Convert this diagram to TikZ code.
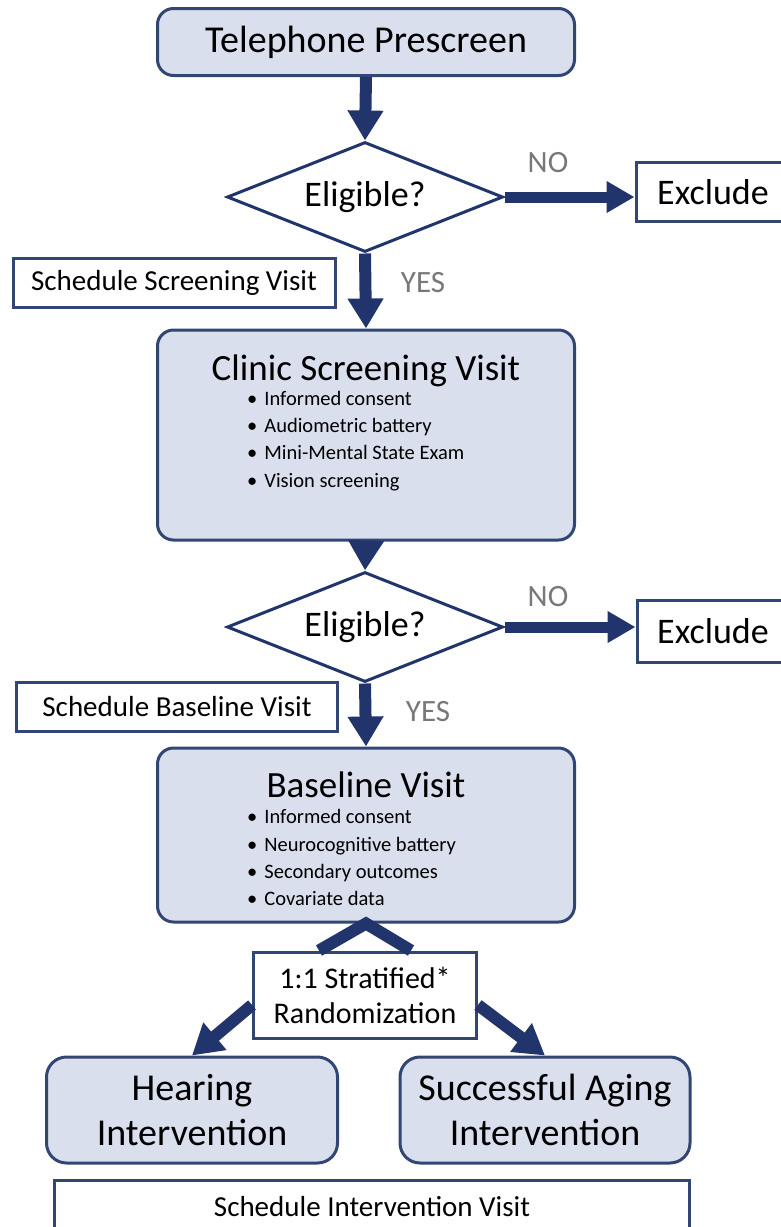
\documentclass[tikz,border=0pt]{standalone}
\usepackage{fontspec}
\setmainfont{Carlito}
\usepackage{tikz}
\usetikzlibrary{positioning}
\usetikzlibrary{shapes.geometric}
\usetikzlibrary{arrows.meta}

\definecolor{navy}{RGB}{33,52,107}
\definecolor{boxline}{RGB}{50,70,115}
\definecolor{boxfill}{RGB}{218,223,238}
\definecolor{answer}{RGB}{120,120,120}

\newcommand{\fsBig}{\fontsize{38}{45}\selectfont}
\newcommand{\fsQuery}{\fontsize{36}{42}\selectfont}
\newcommand{\fsMid}{\fontsize{37}{42}\selectfont}
\newcommand{\fsNote}{\fontsize{29}{35}\selectfont}
\newcommand{\fsItem}{\fontsize{20.5}{24}\selectfont}

\tikzset{
  roundbox/.style={draw=boxline, fill=boxfill, line width=3pt, rounded corners=16pt, inner sep=0pt},
  plainbox/.style={draw=boxline, fill=white, line width=3pt, inner sep=0pt},
  decision/.style={diamond, draw=navy, fill=white, line width=3pt, inner sep=0pt, shape aspect=2.5,
    minimum width=276pt, minimum height=110pt, font=\fsQuery},
  flow/.style={draw=navy, line width=12pt, -{Triangle[length=30pt,width=34pt]}},
  sideflow/.style={draw=navy, line width=11pt, -{Triangle[length=28pt,width=30pt]}},
  answertext/.style={text=answer, font=\fontsize{31}{36}\selectfont},
  itemtext/.style={anchor=base west, inner sep=0pt, font=\fsItem},
  headtext/.style={anchor=base, inner sep=0pt, font=\fsMid},
}

\begin{document}
\begin{tikzpicture}[x=1pt, y=-1pt]
\useasboundingbox (0,0) rectangle (780,1227);

% Nodes
\node at (366,42) (phone) [roundbox, minimum width=417pt, minimum height=67pt, font=\fsBig] {Telephone Prescreen};
\node at (365,197) (elig1) [decision] {Eligible?};
\node at (713,192) (excl1) [plainbox, minimum width=154pt, minimum height=59pt, font=\fsQuery] {Exclude};
\node at (548,163) (no1) [answertext] {NO};
\node at (174,283) (sched1) [plainbox, minimum width=322pt, minimum height=49pt, font=\fsNote] {Schedule Screening Visit};
\node at (423,283) (yes1) [answertext] {YES};

\node at (366,435) (clinic) [roundbox, minimum width=417pt, minimum height=210pt] {};
\node at (366,380) (clinictitle) [headtext] {Clinic Screening Visit};
\node at (247,405) (clinicA) [itemtext] {•\hspace{7pt}Informed consent};
\node at (247,432) (clinicB) [itemtext] {•\hspace{7pt}Audiometric battery};
\node at (247,459) (clinicC) [itemtext] {•\hspace{7pt}Mini-Mental State Exam};
\node at (247,487) (clinicD) [itemtext] {•\hspace{7pt}Vision screening};

\node at (365,627) (elig2) [decision] {Eligible?};
\node at (713,631) (excl2) [plainbox, minimum width=152pt, minimum height=62pt, font=\fsQuery] {Exclude};
\node at (548,597) (no2) [answertext] {NO};
\node at (177,707) (sched2) [plainbox, minimum width=321pt, minimum height=49pt, font=\fsNote] {Schedule Baseline Visit};
\node at (428,712) (yes2) [answertext] {YES};

\node at (366,835) (baseline) [roundbox, minimum width=417pt, minimum height=174pt] {};
\node at (366,797) (baselinetitle) [headtext] {Baseline Visit};
\node at (247,823) (baseA) [itemtext] {•\hspace{7pt}Informed consent};
\node at (247,851) (baseB) [itemtext] {•\hspace{7pt}Neurocognitive battery};
\node at (247,878) (baseC) [itemtext] {•\hspace{7pt}Secondary outcomes};
\node at (247,905) (baseD) [itemtext] {•\hspace{7pt}Covariate data};

\node at (365,995) (strat) [plainbox, minimum width=223pt, minimum height=86pt, align=center, font=\fontsize{30}{35}\selectfont] {1:1 Stratified*\\Randomization};
\node at (192,1110) (hearing) [roundbox, rounded corners=20pt, minimum width=291pt, minimum height=106pt, align=center, font=\fsBig] {Hearing\\Intervention};
\node at (545,1110) (aging) [roundbox, rounded corners=20pt, minimum width=290pt, minimum height=106pt, align=center, font=\fsBig] {Successful Aging\\Intervention};
\node at (372,1207) (sched3) [plainbox, minimum width=635pt, minimum height=54pt, font=\fsNote] {Schedule Intervention Visit};

% Arrows
\draw[flow] (phone.south) -- (elig1.north);
\draw[sideflow] (elig1.east) -- (elig1.east -| excl1.west);
\draw[flow] (elig1.south) -- (clinic.north);
\draw[flow] (clinic.south) -- (elig2.north);
\draw[sideflow] (elig2.east) -- (elig2.east -| excl2.west);
\draw[flow] (elig2.south) -- (baseline.south |- baseline.north);

% Randomization split
\draw[draw=navy, line width=12pt] ([xshift=-46pt]strat.north) -- (baseline.south) -- ([xshift=46pt]strat.north);
\draw[flow] ([yshift=-10pt]strat.west) -- (hearing.north);
\draw[flow] ([yshift=-10pt]strat.east) -- (aging.north);

\end{tikzpicture}
\end{document}
